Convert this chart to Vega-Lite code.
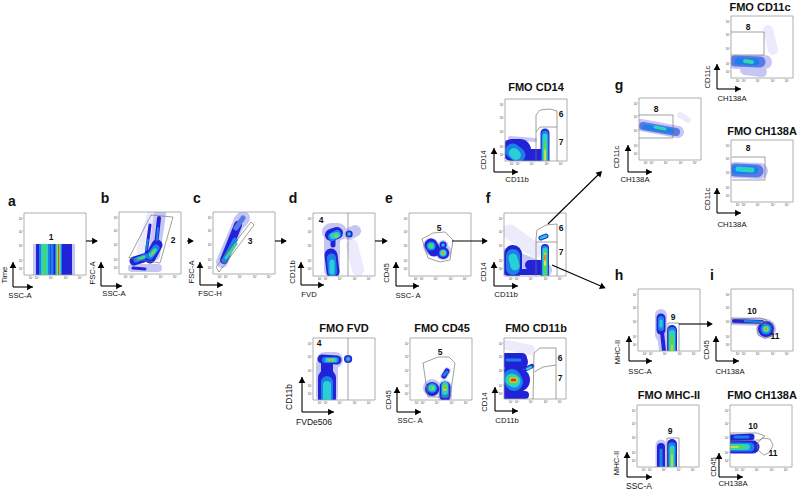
{"$schema":"https://vega.github.io/schema/vega-lite/v6.json","width":798,"height":492,"autosize":{"type":"fit","contains":"padding"},"padding":0,"background":"white","view":{"stroke":null},
"datasets":{
"bands":[
{"x":33,"x2":75,"y":244,"y2":275,"l":1},{"x":36,"x2":72,"y":244,"y2":275,"l":2},{"x":39,"x2":50,"y":244,"y2":275,"l":3},{"x":41,"x2":48,"y":244,"y2":275,"l":4},{"x":43,"x2":46,"y":244,"y2":275,"l":5},{"x":50.5,"x2":53.5,"y":244,"y2":275,"l":3},{"x":55,"x2":62,"y":244,"y2":275,"l":3},{"x":56,"x2":61,"y":244,"y2":275,"l":4},{"x":56.8,"x2":60,"y":244,"y2":275,"l":5},{"x":57.3,"x2":59.3,"y":244,"y2":275,"l":6},{"x":57.9,"x2":58.8,"y":244,"y2":275,"l":7}],
"blobs":[
{"x":132,"y":268,"x2":158,"y2":268,"w":8,"l":1},{"x":142,"y":250,"x2":152,"y2":216,"w":11,"l":0},{"x":154,"y":255,"x2":160,"y2":214,"w":12,"l":1},{"x":134,"y":261,"x2":147,"y2":257,"w":9,"l":2},{"x":146,"y":255,"x2":150,"y2":225,"w":3,"l":2},{"x":155,"y":255,"x2":159,"y2":218,"w":4,"l":2},{"x":150,"y":258,"x2":157,"y2":245,"w":11,"l":2},{"x":133,"y":268,"x2":145,"y2":269,"w":3,"l":2},{"x":136,"y":260,"x2":146,"y2":256,"w":5,"l":3},{"x":150,"y":256,"x2":156,"y2":248,"w":7,"l":3},{"x":146,"y":250,"x2":148,"y2":240,"w":2,"l":3},{"x":157,"y":240,"x2":158,"y2":228,"w":2,"l":3},{"x":138,"y":259,"x2":144,"y2":257,"w":3,"l":4},{"x":151,"y":255,"x2":155,"y2":250,"w":4,"l":4},{"x":139,"y":259,"x2":143,"y2":257.5,"w":2,"l":5},{"x":152,"y":254,"x2":154,"y2":251,"w":3,"l":5},{"x":153,"y":252.5,"x2":153.3,"y2":252.3,"w":2,"l":6},{"x":153,"y":252,"x2":153.2,"y2":252,"w":1.2,"l":7},
{"x":222,"y":262,"x2":240,"y2":220,"w":12,"l":1},{"x":240,"y":222,"x2":243,"y2":218,"w":14,"l":1},{"x":224,"y":260,"x2":238,"y2":225,"w":8,"l":2},{"x":236,"y":228,"x2":243,"y2":218,"w":5,"l":8},{"x":224,"y":261,"x2":235,"y2":240,"w":5,"l":3},{"x":226,"y":258,"x2":236,"y2":244,"w":3,"l":4},{"x":228,"y":255,"x2":235,"y2":246,"w":1.8,"l":5},
{"x":352,"y":245,"x2":358,"y2":270,"w":12,"l":0},{"x":331,"y":232,"x2":338,"y2":232,"w":18,"l":1},{"x":332,"y":240,"x2":332,"y2":270,"w":16,"l":1},{"x":349,"y":234,"x2":355,"y2":231,"w":12,"l":1},{"x":331,"y":235,"x2":337,"y2":233,"w":12,"l":2},{"x":333,"y":245,"x2":333,"y2":240,"w":5,"l":2},{"x":331,"y":255,"x2":333,"y2":272,"w":13,"l":2},{"x":349,"y":234,"x2":349.2,"y2":234,"w":7,"l":2},{"x":332,"y":237,"x2":337,"y2":234,"w":8,"l":3},{"x":331.5,"y":258,"x2":332.5,"y2":272,"w":9,"l":3},{"x":349,"y":234,"x2":349.2,"y2":234,"w":4,"l":3},{"x":333,"y":236,"x2":337,"y2":235,"w":6,"l":4},{"x":332,"y":262,"x2":332,"y2":272,"w":5,"l":4},{"x":349,"y":234,"x2":349.2,"y2":234,"w":2.5,"l":4},{"x":336,"y":236,"x2":336.2,"y2":236,"w":4,"l":5},{"x":336,"y":236,"x2":336.2,"y2":236,"w":2.5,"l":6},{"x":336,"y":236,"x2":336.2,"y2":236,"w":1.2,"l":7},
{"x":431,"y":246,"x2":432,"y2":248,"w":16,"l":1},{"x":443,"y":252,"x2":443.2,"y2":252,"w":16,"l":1},{"x":443,"y":245,"x2":443.2,"y2":245,"w":10,"l":1},{"x":431,"y":245,"x2":434,"y2":250,"w":13,"l":2},{"x":443,"y":253,"x2":443.2,"y2":253,"w":12,"l":2},{"x":443,"y":245,"x2":443.2,"y2":245,"w":7,"l":2},{"x":431,"y":246,"x2":431.2,"y2":246,"w":9,"l":3},{"x":443,"y":253,"x2":443.2,"y2":253,"w":8,"l":3},{"x":443,"y":245,"x2":443.2,"y2":245,"w":4,"l":3},{"x":431,"y":246,"x2":431.2,"y2":246,"w":6,"l":4},{"x":443,"y":253,"x2":443.2,"y2":253,"w":6,"l":4},{"x":443,"y":245,"x2":443.2,"y2":245,"w":2,"l":4},{"x":431,"y":246,"x2":431.2,"y2":246,"w":4,"l":5},{"x":443,"y":253,"x2":443.2,"y2":253,"w":4,"l":5},{"x":443,"y":253,"x2":443.2,"y2":253,"w":3,"l":6},{"x":443,"y":253,"x2":443.2,"y2":253,"w":1.5,"l":7},
{"x":510,"y":232,"x2":535,"y2":250,"w":15,"l":0},{"x":507,"y":255,"x2":545,"y2":270,"w":14,"l":1},{"x":513,"y":254,"x2":513,"y2":270,"w":18,"l":2},{"x":506,"y":272,"x2":540,"y2":272,"w":6,"l":2},{"x":530,"y":265,"x2":540,"y2":265,"w":10,"l":2},{"x":545,"y":248,"x2":545,"y2":276,"w":8,"l":2},{"x":541,"y":238,"x2":546,"y2":236,"w":5,"l":2},{"x":513,"y":256,"x2":513,"y2":268,"w":14,"l":3},{"x":545,"y":249,"x2":545,"y2":276,"w":6.5,"l":3},{"x":541,"y":238,"x2":546,"y2":236,"w":3.5,"l":3},{"x":513,"y":258,"x2":515,"y2":266,"w":9,"l":4},{"x":545,"y":250,"x2":545,"y2":276,"w":5,"l":4},{"x":541,"y":238,"x2":546,"y2":236,"w":2,"l":4},{"x":545,"y":252,"x2":545,"y2":276,"w":3.5,"l":5},{"x":545,"y":254,"x2":545,"y2":265,"w":2,"l":6},{"x":545,"y":255,"x2":545,"y2":260,"w":1,"l":7},
{"x":325,"y":360,"x2":335,"y2":360,"w":16,"l":1},{"x":327,"y":365,"x2":327,"y2":395,"w":22,"l":1},{"x":322,"y":359,"x2":337,"y2":360,"w":9,"l":2},{"x":327,"y":364,"x2":327,"y2":372,"w":12,"l":2},{"x":327,"y":378,"x2":327,"y2":398,"w":18,"l":2},{"x":348,"y":359,"x2":348.2,"y2":359,"w":8,"l":2},{"x":325,"y":360,"x2":336,"y2":360,"w":6,"l":3},{"x":327,"y":382,"x2":327,"y2":400,"w":12,"l":3},{"x":348,"y":359,"x2":348.2,"y2":359,"w":5,"l":3},{"x":327,"y":360,"x2":335,"y2":360,"w":4,"l":4},{"x":327,"y":385,"x2":327,"y2":400,"w":8,"l":4},{"x":348,"y":359,"x2":348.2,"y2":359,"w":3,"l":4},{"x":329,"y":360,"x2":333,"y2":360,"w":3,"l":5},{"x":330,"y":360,"x2":332,"y2":360,"w":2,"l":6},{"x":330.5,"y":360,"x2":331.5,"y2":360,"w":1,"l":7},
{"x":432,"y":388,"x2":432.2,"y2":388,"w":18,"l":1},{"x":445,"y":387,"x2":445,"y2":396,"w":14,"l":1},{"x":444,"y":376,"x2":447,"y2":371,"w":7,"l":1},{"x":432,"y":389,"x2":432.2,"y2":389,"w":14,"l":2},{"x":445,"y":387,"x2":445,"y2":396,"w":11,"l":2},{"x":444,"y":376,"x2":447,"y2":371,"w":5,"l":2},{"x":432,"y":388,"x2":432.2,"y2":388,"w":10,"l":3},{"x":445,"y":386,"x2":445,"y2":394,"w":8,"l":3},{"x":444,"y":375,"x2":447,"y2":372,"w":3,"l":3},{"x":432,"y":388,"x2":432.2,"y2":388,"w":7,"l":4},{"x":445,"y":385,"x2":445,"y2":392,"w":6,"l":4},{"x":432,"y":388,"x2":432.2,"y2":388,"w":4.5,"l":5},{"x":445,"y":386,"x2":445,"y2":390,"w":4.5,"l":5},{"x":433,"y":388,"x2":433.2,"y2":388,"w":1.5,"l":6},{"x":445,"y":388,"x2":445,"y2":389,"w":3,"l":6},{"x":445,"y":388,"x2":445.2,"y2":388,"w":1.6,"l":7},
{"x":507,"y":345,"x2":530,"y2":350,"w":10,"l":0},{"x":510,"y":362,"x2":520,"y2":362,"w":16,"l":2},{"x":505,"y":358,"x2":522,"y2":358,"w":10,"l":2},{"x":507,"y":380,"x2":518,"y2":380,"w":24,"l":2},{"x":505,"y":395,"x2":525,"y2":395,"w":8,"l":2},{"x":526,"y":369,"x2":532,"y2":366,"w":4.5,"l":2},{"x":507,"y":360,"x2":520,"y2":360,"w":3,"l":3},{"x":512,"y":378,"x2":514,"y2":382,"w":18,"l":3},{"x":527,"y":369,"x2":531,"y2":367,"w":3,"l":3},{"x":512,"y":380,"x2":514,"y2":381,"w":13,"l":4},{"x":527,"y":369,"x2":531,"y2":367,"w":2,"l":4},{"x":512,"y":380,"x2":514,"y2":380,"w":9,"l":5},{"x":512,"y":380,"x2":515,"y2":380,"w":5,"l":6},{"x":512,"y":380,"x2":515,"y2":380,"w":3,"l":7},
{"x":510,"y":138,"x2":535,"y2":140,"w":4,"l":1},{"x":512,"y":150,"x2":520,"y2":150,"w":22,"l":2},{"x":520,"y":155,"x2":540,"y2":155,"w":12,"l":2},{"x":545,"y":133,"x2":545,"y2":161,"w":9,"l":2},{"x":513,"y":151,"x2":518,"y2":155,"w":15,"l":3},{"x":545,"y":134,"x2":545,"y2":161,"w":7,"l":3},{"x":514,"y":153,"x2":516,"y2":155,"w":10,"l":4},{"x":545,"y":136,"x2":545,"y2":161,"w":5,"l":4},{"x":545,"y":142,"x2":545,"y2":161,"w":3,"l":5},{"x":545,"y":150,"x2":545,"y2":161,"w":1.5,"l":6},
{"x":680,"y":115,"x2":688,"y2":120,"w":6,"l":0},{"x":641,"y":125,"x2":678,"y2":132,"w":12,"l":1},{"x":643,"y":126,"x2":676,"y2":132,"w":8,"l":8},{"x":645,"y":127,"x2":672,"y2":131,"w":5,"l":3},{"x":655,"y":127,"x2":665,"y2":129,"w":3,"l":4},{"x":657,"y":128,"x2":663,"y2":129,"w":1.5,"l":5},
{"x":768,"y":30,"x2":773,"y2":50,"w":10,"l":0},{"x":735,"y":62,"x2":765,"y2":62,"w":14,"l":1},{"x":745,"y":70,"x2":762,"y2":72,"w":10,"l":1},{"x":735,"y":61,"x2":760,"y2":62,"w":11,"l":8},{"x":738,"y":61,"x2":756,"y2":62,"w":7,"l":3},{"x":745,"y":61,"x2":752,"y2":62,"w":4,"l":4},{"x":747,"y":61,"x2":750,"y2":62,"w":2,"l":5},
{"x":735,"y":170,"x2":760,"y2":171,"w":16,"l":1},{"x":735,"y":170,"x2":757,"y2":171,"w":13,"l":8},{"x":736,"y":170,"x2":754,"y2":170,"w":8,"l":3},{"x":738,"y":169,"x2":752,"y2":170,"w":5,"l":4},{"x":745,"y":170,"x2":750,"y2":170,"w":1.5,"l":5},
{"x":661,"y":315,"x2":661,"y2":335,"w":12,"l":1},{"x":662,"y":335,"x2":664,"y2":350,"w":10,"l":1},{"x":661,"y":318,"x2":661,"y2":330,"w":9,"l":2},{"x":662,"y":332,"x2":664,"y2":351,"w":4,"l":2},{"x":672,"y":330,"x2":672,"y2":351,"w":10,"l":2},{"x":661,"y":319,"x2":661,"y2":328,"w":6,"l":3},{"x":672,"y":331,"x2":672,"y2":351,"w":8,"l":3},{"x":661,"y":321,"x2":661,"y2":326,"w":3,"l":4},{"x":672,"y":333,"x2":672,"y2":351,"w":6,"l":4},{"x":672,"y":336,"x2":672,"y2":351,"w":4,"l":5},{"x":672,"y":345,"x2":672,"y2":351,"w":1.2,"l":6},
{"x":732,"y":321,"x2":762,"y2":322,"w":8,"l":1},{"x":766,"y":329,"x2":766.2,"y2":329,"w":20,"l":1},{"x":734,"y":321,"x2":762,"y2":322,"w":4,"l":2},{"x":766,"y":329,"x2":766.2,"y2":329,"w":16,"l":2},{"x":745,"y":321,"x2":762,"y2":322,"w":2.5,"l":3},{"x":766,"y":329,"x2":766.2,"y2":329,"w":11,"l":3},{"x":766,"y":329,"x2":766.2,"y2":329,"w":7,"l":4},{"x":766,"y":329,"x2":766.2,"y2":329,"w":5,"l":5},{"x":766,"y":329,"x2":766.2,"y2":329,"w":3,"l":6},{"x":766,"y":329,"x2":766.2,"y2":329,"w":1.5,"l":7},
{"x":661,"y":445,"x2":661,"y2":467,"w":11,"l":1},{"x":661,"y":447,"x2":661,"y2":467,"w":8,"l":2},{"x":672,"y":444,"x2":672,"y2":467,"w":10,"l":2},{"x":661,"y":450,"x2":661,"y2":467,"w":3,"l":3},{"x":672,"y":446,"x2":672,"y2":467,"w":7.5,"l":3},{"x":672,"y":448,"x2":672,"y2":467,"w":5,"l":4},{"x":672,"y":450,"x2":672,"y2":467,"w":3,"l":5},{"x":672,"y":455,"x2":672,"y2":467,"w":1.2,"l":6},
{"x":731,"y":438,"x2":751,"y2":437,"w":7,"l":2},{"x":731,"y":447,"x2":753,"y2":447,"w":13,"l":2},{"x":735,"y":437,"x2":748,"y2":437,"w":3,"l":3},{"x":731,"y":447,"x2":750,"y2":447,"w":9,"l":3},{"x":731,"y":447,"x2":747,"y2":447,"w":6,"l":4},{"x":731,"y":447,"x2":744,"y2":447,"w":3.5,"l":5},{"x":731,"y":447,"x2":738,"y2":447,"w":1.5,"l":6}],
"masks":[
{"x":119,"x2":181,"y":274,"y2":283},{"x":119,"x2":181,"y":205,"y2":212},{"x":213,"x2":275,"y":205,"y2":212},{"x":213,"x2":275,"y":274,"y2":283},{"x":313,"x2":375,"y":276,"y2":285},{"x":409,"x2":471,"y":276,"y2":285},{"x":504,"x2":566,"y":276,"y2":285},{"x":495,"x2":504,"y":213,"y2":285},{"x":313,"x2":375,"y":400,"y2":409},{"x":410,"x2":472,"y":400,"y2":409},{"x":504,"x2":566,"y":399,"y2":408},{"x":495,"x2":504,"y":338,"y2":408},{"x":505,"x2":567,"y":161,"y2":170},{"x":496,"x2":505,"y":99,"y2":170},{"x":630,"x2":639,"y":98,"y2":160},{"x":722,"x2":731,"y":16,"y2":78},{"x":722,"x2":731,"y":140,"y2":202},{"x":638,"x2":700,"y":351,"y2":360},{"x":722,"x2":731,"y":289,"y2":351},{"x":637,"x2":699,"y":467,"y2":476},{"x":721,"x2":730,"y":405,"y2":467}],
"frames":[
{"x":24,"x2":86,"y":213,"y2":275},{"x":119,"x2":181,"y":212,"y2":274},{"x":213,"x2":275,"y":212,"y2":274},{"x":313,"x2":375,"y":213,"y2":276},{"x":409,"x2":471,"y":213,"y2":276},{"x":504,"x2":566,"y":213,"y2":276},{"x":313,"x2":375,"y":338,"y2":400},{"x":410,"x2":472,"y":338,"y2":400},{"x":504,"x2":566,"y":338,"y2":399},{"x":505,"x2":567,"y":99,"y2":161},{"x":639,"x2":701,"y":98,"y2":160},{"x":731,"x2":793,"y":16,"y2":78},{"x":731,"x2":793,"y":140,"y2":202},{"x":638,"x2":700,"y":289,"y2":351},{"x":731,"x2":793,"y":289,"y2":351},{"x":637,"x2":699,"y":405,"y2":467},{"x":730,"x2":792,"y":405,"y2":467}],
"gates":[
{"g":"b","i":1,"x":129,"y":258},{"g":"b","i":2,"x":151,"y":215},{"g":"b","i":3,"x":173,"y":217},{"g":"b","i":4,"x":160,"y":263},{"g":"b","i":5,"x":129,"y":258},
{"g":"c","i":1,"x":216,"y":267},{"g":"c","i":2,"x":251,"y":222},{"g":"c","i":3,"x":254,"y":225},{"g":"c","i":4,"x":219,"y":272},{"g":"c","i":5,"x":216,"y":267},
{"g":"d","i":1,"x":348,"y":213},{"g":"d","i":2,"x":348,"y":276},
{"g":"e","i":1,"x":422,"y":239},{"g":"e","i":2,"x":433,"y":233},{"g":"e","i":3,"x":445,"y":232},{"g":"e","i":4,"x":453,"y":240},{"g":"e","i":5,"x":450,"y":260},{"g":"e","i":6,"x":440,"y":262},{"g":"e","i":7,"x":428,"y":258},{"g":"e","i":8,"x":422,"y":239},
{"g":"f6","i":1,"x":536,"y":242},{"g":"f6","i":2,"x":536,"y":239},{"g":"f6","i":3,"x":537,"y":230},{"g":"f6","i":4,"x":546,"y":225},{"g":"f6","i":5,"x":557,"y":224},{"g":"f6","i":6,"x":557,"y":242},{"g":"f6","i":7,"x":536,"y":242},{"g":"f7","i":1,"x":536,"y":242},{"g":"f7","i":2,"x":536,"y":276},{"g":"f8","i":1,"x":557,"y":242},{"g":"f8","i":2,"x":557,"y":276},
{"g":"v","i":1,"x":348,"y":338},{"g":"v","i":2,"x":348,"y":400},
{"g":"k","i":1,"x":423,"y":363},{"g":"k","i":2,"x":438,"y":357},{"g":"k","i":3,"x":449,"y":357},{"g":"k","i":4,"x":455,"y":363},{"g":"k","i":5,"x":450,"y":397},{"g":"k","i":6,"x":428,"y":397},{"g":"k","i":7,"x":423,"y":363},
{"g":"m","i":1,"x":533,"y":399},{"g":"m","i":2,"x":534,"y":353},{"g":"m","i":3,"x":540,"y":348},{"g":"m","i":4,"x":556,"y":348},{"g":"m","i":5,"x":556,"y":399},{"g":"n","i":1,"x":534,"y":372},{"g":"n","i":2,"x":543,"y":367},{"g":"n","i":3,"x":556,"y":365},
{"g":"o","i":1,"x":536,"y":161},{"g":"o","i":2,"x":536,"y":115},{"g":"o","i":3,"x":540,"y":110},{"g":"o","i":4,"x":550,"y":109},{"g":"o","i":5,"x":557,"y":111},{"g":"o","i":6,"x":557,"y":161},{"g":"p","i":1,"x":536,"y":132},{"g":"p","i":2,"x":540,"y":127},{"g":"p","i":3,"x":557,"y":127},
{"g":"q","i":1,"x":639,"y":115},{"g":"q","i":2,"x":673,"y":115},{"g":"q","i":3,"x":673,"y":138},{"g":"q","i":4,"x":639,"y":138},
{"g":"r","i":1,"x":731,"y":32},{"g":"r","i":2,"x":764,"y":32},{"g":"r","i":3,"x":764,"y":55},{"g":"r","i":4,"x":731,"y":55},
{"g":"s","i":1,"x":732,"y":157},{"g":"s","i":2,"x":765,"y":157},{"g":"s","i":3,"x":765,"y":180},{"g":"s","i":4,"x":732,"y":180},
{"g":"t","i":1,"x":668,"y":351},{"g":"t","i":2,"x":668,"y":323},{"g":"t","i":3,"x":679,"y":323},{"g":"t","i":4,"x":679,"y":351},
{"g":"u","i":1,"x":731,"y":319},{"g":"u","i":2,"x":760,"y":318},{"g":"u","i":3,"x":767,"y":320},{"g":"u","i":4,"x":765,"y":324},{"g":"u","i":5,"x":731,"y":323},
{"g":"w","i":1,"x":761,"y":322},{"g":"w","i":2,"x":770,"y":322},{"g":"w","i":3,"x":774,"y":328},{"g":"w","i":4,"x":772,"y":336},{"g":"w","i":5,"x":765,"y":338},{"g":"w","i":6,"x":758,"y":335},{"g":"w","i":7,"x":757,"y":328},{"g":"w","i":8,"x":761,"y":322},
{"g":"y","i":1,"x":667,"y":467},{"g":"y","i":2,"x":667,"y":438},{"g":"y","i":3,"x":679,"y":438},{"g":"y","i":4,"x":679,"y":467},
{"g":"z","i":1,"x":730,"y":433},{"g":"z","i":2,"x":757,"y":433},{"g":"z","i":3,"x":765,"y":436},{"g":"z","i":4,"x":760,"y":440},{"g":"z","i":5,"x":730,"y":441},
{"g":"za","i":1,"x":762,"y":438},{"g":"za","i":2,"x":770,"y":439},{"g":"za","i":3,"x":773,"y":445},{"g":"za","i":4,"x":770,"y":452},{"g":"za","i":5,"x":764,"y":455},{"g":"za","i":6,"x":758,"y":450},{"g":"za","i":7,"x":757,"y":444},{"g":"za","i":8,"x":762,"y":438}],
"ticks":[
{"x":31,"y":278},{"x":37,"y":278},{"x":51,"y":278},{"x":66,"y":278},{"x":80,"y":278},{"x":21,"y":219},{"x":21,"y":232},{"x":21,"y":246},{"x":21,"y":261},{"x":21,"y":269},
{"x":126,"y":277},{"x":132,"y":277},{"x":146,"y":277},{"x":161,"y":277},{"x":175,"y":277},{"x":116,"y":218},{"x":116,"y":231},{"x":116,"y":245},{"x":116,"y":260},{"x":116,"y":268},
{"x":220,"y":277},{"x":226,"y":277},{"x":240,"y":277},{"x":255,"y":277},{"x":269,"y":277},{"x":210,"y":218},{"x":210,"y":231},{"x":210,"y":245},{"x":210,"y":260},{"x":210,"y":268},
{"x":320,"y":279},{"x":326,"y":279},{"x":340,"y":279},{"x":355,"y":279},{"x":369,"y":279},{"x":310,"y":219},{"x":310,"y":232},{"x":310,"y":246},{"x":310,"y":261},{"x":310,"y":269},
{"x":416,"y":279},{"x":422,"y":279},{"x":436,"y":279},{"x":451,"y":279},{"x":465,"y":279},{"x":406,"y":219},{"x":406,"y":232},{"x":406,"y":246},{"x":406,"y":261},{"x":406,"y":269},
{"x":511,"y":279},{"x":517,"y":279},{"x":531,"y":279},{"x":546,"y":279},{"x":560,"y":279},{"x":501,"y":219},{"x":501,"y":232},{"x":501,"y":246},{"x":501,"y":261},{"x":501,"y":269},
{"x":320,"y":403},{"x":326,"y":403},{"x":340,"y":403},{"x":355,"y":403},{"x":369,"y":403},{"x":310,"y":344},{"x":310,"y":357},{"x":310,"y":371},{"x":310,"y":386},{"x":310,"y":394},
{"x":417,"y":403},{"x":423,"y":403},{"x":437,"y":403},{"x":452,"y":403},{"x":466,"y":403},{"x":407,"y":344},{"x":407,"y":357},{"x":407,"y":371},{"x":407,"y":386},{"x":407,"y":394},
{"x":511,"y":402},{"x":517,"y":402},{"x":531,"y":402},{"x":546,"y":402},{"x":560,"y":402},{"x":501,"y":344},{"x":501,"y":357},{"x":501,"y":371},{"x":501,"y":386},{"x":501,"y":394},
{"x":512,"y":164},{"x":518,"y":164},{"x":532,"y":164},{"x":547,"y":164},{"x":561,"y":164},{"x":502,"y":105},{"x":502,"y":118},{"x":502,"y":132},{"x":502,"y":147},{"x":502,"y":155},
{"x":646,"y":163},{"x":652,"y":163},{"x":666,"y":163},{"x":681,"y":163},{"x":695,"y":163},{"x":636,"y":104},{"x":636,"y":117},{"x":636,"y":131},{"x":636,"y":146},{"x":636,"y":154},
{"x":738,"y":81},{"x":744,"y":81},{"x":758,"y":81},{"x":773,"y":81},{"x":787,"y":81},{"x":728,"y":22},{"x":728,"y":35},{"x":728,"y":49},{"x":728,"y":64},{"x":728,"y":72},
{"x":738,"y":205},{"x":744,"y":205},{"x":758,"y":205},{"x":773,"y":205},{"x":787,"y":205},{"x":728,"y":146},{"x":728,"y":159},{"x":728,"y":173},{"x":728,"y":188},{"x":728,"y":196},
{"x":645,"y":354},{"x":651,"y":354},{"x":665,"y":354},{"x":680,"y":354},{"x":694,"y":354},{"x":635,"y":295},{"x":635,"y":308},{"x":635,"y":322},{"x":635,"y":337},{"x":635,"y":345},
{"x":738,"y":354},{"x":744,"y":354},{"x":758,"y":354},{"x":773,"y":354},{"x":787,"y":354},{"x":728,"y":295},{"x":728,"y":308},{"x":728,"y":322},{"x":728,"y":337},{"x":728,"y":345},
{"x":644,"y":470},{"x":650,"y":470},{"x":664,"y":470},{"x":679,"y":470},{"x":693,"y":470},{"x":634,"y":411},{"x":634,"y":424},{"x":634,"y":438},{"x":634,"y":453},{"x":634,"y":461},
{"x":737,"y":470},{"x":743,"y":470},{"x":757,"y":470},{"x":772,"y":470},{"x":786,"y":470},{"x":727,"y":411},{"x":727,"y":424},{"x":727,"y":438},{"x":727,"y":453},{"x":727,"y":461}],
"lines":[
{"x":13,"y":262,"x2":13,"y2":287},{"x":13,"y":287,"x2":33,"y2":287},{"x":101,"y":262,"x2":101,"y2":286},{"x":101,"y":286,"x2":122,"y2":286},{"x":200,"y":262,"x2":200,"y2":285},{"x":200,"y":285,"x2":223,"y2":285},{"x":301,"y":262,"x2":301,"y2":285},{"x":301,"y":285,"x2":324,"y2":285},{"x":396,"y":262,"x2":396,"y2":286},{"x":396,"y":286,"x2":419,"y2":286},{"x":494,"y":262,"x2":494,"y2":286},{"x":494,"y":286,"x2":518,"y2":286},{"x":302,"y":377,"x2":302,"y2":412},{"x":302,"y":412,"x2":334,"y2":412},{"x":397,"y":387,"x2":397,"y2":412},{"x":397,"y":412,"x2":421,"y2":412},{"x":495,"y":387,"x2":495,"y2":411},{"x":495,"y":411,"x2":518,"y2":411},{"x":494,"y":148,"x2":494,"y2":172},{"x":494,"y":172,"x2":518,"y2":172},{"x":628,"y":145,"x2":628,"y2":172},{"x":628,"y":172,"x2":652,"y2":172},{"x":717,"y":64,"x2":717,"y2":89},{"x":717,"y":89,"x2":741,"y2":89},{"x":717,"y":188,"x2":717,"y2":213},{"x":717,"y":213,"x2":741,"y2":213},{"x":629,"y":336,"x2":629,"y2":361},{"x":629,"y":361,"x2":652,"y2":361},{"x":716,"y":336,"x2":716,"y2":361},{"x":716,"y":361,"x2":739,"y2":361},{"x":627,"y":452,"x2":627,"y2":477},{"x":627,"y":477,"x2":652,"y2":477},{"x":719,"y":453,"x2":719,"y2":477},{"x":719,"y":477,"x2":743,"y2":477},
{"x":86,"y":241,"x2":97,"y2":241},{"x":187,"y":241,"x2":192,"y2":241},{"x":275,"y":241,"x2":286,"y2":241},{"x":375,"y":241,"x2":386,"y2":241},{"x":452,"y":241,"x2":486,"y2":241},{"x":548,"y":224,"x2":600,"y2":173},{"x":552,"y":265,"x2":603,"y2":287},{"x":679,"y":324,"x2":711,"y2":324}],
"heads":[
{"x":13,"y":265,"a":0},{"x":30,"y":287,"a":90},{"x":101,"y":265,"a":0},{"x":119,"y":286,"a":90},{"x":200,"y":265,"a":0},{"x":220,"y":285,"a":90},{"x":301,"y":265,"a":0},{"x":321,"y":285,"a":90},{"x":396,"y":265,"a":0},{"x":416,"y":286,"a":90},{"x":494,"y":265,"a":0},{"x":515,"y":286,"a":90},{"x":302,"y":380,"a":0},{"x":331,"y":412,"a":90},{"x":397,"y":390,"a":0},{"x":418,"y":412,"a":90},{"x":495,"y":390,"a":0},{"x":515,"y":411,"a":90},{"x":494,"y":151,"a":0},{"x":515,"y":172,"a":90},{"x":628,"y":148,"a":0},{"x":649,"y":172,"a":90},{"x":717,"y":67,"a":0},{"x":738,"y":89,"a":90},{"x":717,"y":191,"a":0},{"x":738,"y":213,"a":90},{"x":629,"y":339,"a":0},{"x":649,"y":361,"a":90},{"x":716,"y":339,"a":0},{"x":736,"y":361,"a":90},{"x":627,"y":455,"a":0},{"x":649,"y":477,"a":90},{"x":719,"y":456,"a":0},{"x":740,"y":477,"a":90},
{"x":95,"y":241,"a":90},{"x":191,"y":241,"a":90},{"x":284,"y":241,"a":90},{"x":385,"y":241,"a":90},{"x":485,"y":241,"a":90},{"x":600,"y":173,"a":45},{"x":603,"y":287,"a":113},{"x":710,"y":324,"a":90}],
"bold":[
{"x":12,"y":202,"t":"a","s":14},{"x":105,"y":199,"t":"b","s":14},{"x":197,"y":199,"t":"c","s":14},{"x":293,"y":199,"t":"d","s":14},{"x":389,"y":199,"t":"e","s":14},{"x":488,"y":199,"t":"f","s":14},{"x":619,"y":86,"t":"g","s":14},{"x":619,"y":276,"t":"h","s":14},{"x":712,"y":276,"t":"i","s":14},
{"x":344,"y":329,"t":"FMO FVD","s":11},{"x":442,"y":329,"t":"FMO CD45","s":11},{"x":536,"y":329,"t":"FMO CD11b","s":11},{"x":536,"y":88,"t":"FMO CD14","s":11},{"x":760,"y":8,"t":"FMO CD11c","s":11},{"x":762,"y":132,"t":"FMO CH138A","s":11},{"x":669,"y":396,"t":"FMO MHC-II","s":11},{"x":762,"y":396,"t":"FMO CH138A","s":11},
{"x":51,"y":237,"t":"1","s":8.5},{"x":173,"y":240,"t":"2","s":8.5},{"x":250,"y":241,"t":"3","s":8.5},{"x":321,"y":220,"t":"4","s":8.5},{"x":439,"y":228,"t":"5","s":8.5},{"x":561,"y":228,"t":"6","s":8.5},{"x":561,"y":252,"t":"7","s":8.5},{"x":319,"y":343,"t":"4","s":8.5},{"x":440,"y":352,"t":"5","s":8.5},{"x":560,"y":358,"t":"6","s":8.5},{"x":560,"y":378,"t":"7","s":8.5},{"x":561,"y":114,"t":"6","s":8.5},{"x":561,"y":142,"t":"7","s":8.5},{"x":656,"y":109,"t":"8","s":8.5},{"x":748,"y":27,"t":"8","s":8.5},{"x":748,"y":148,"t":"8","s":8.5},{"x":673,"y":317,"t":"9","s":8.5},{"x":752,"y":311,"t":"10","s":8.5},{"x":775,"y":336,"t":"11","s":8.5},{"x":670,"y":431,"t":"9","s":8.5},{"x":753,"y":426,"t":"10","s":8.5},{"x":773,"y":453,"t":"11","s":8.5}],
"labels":[
{"x":20,"y":296,"t":"SSC-A","s":7.7},{"x":114,"y":294,"t":"SSC-A","s":7.7},{"x":210,"y":294,"t":"FSC-H","s":7.7},{"x":309,"y":295,"t":"FVD","s":7.7},{"x":408,"y":296,"t":"SSC- A","s":7.7},{"x":506,"y":295,"t":"CD11b","s":7.7},{"x":314,"y":422,"t":"FVDe506","s":8.5},{"x":410,"y":421,"t":"SSC- A","s":7.7},{"x":507,"y":421,"t":"CD11b","s":7.7},{"x":517,"y":180,"t":"CD11b","s":7.7},{"x":635,"y":180,"t":"CH138A","s":7.7},{"x":732,"y":99,"t":"CH138A","s":7.7},{"x":732,"y":225,"t":"CH138A","s":7.7},{"x":640,"y":372,"t":"SSC-A","s":7.7},{"x":730,"y":372,"t":"CH138A","s":7.7},{"x":639,"y":486,"t":"SSC-A","s":8.5},{"x":733,"y":484,"t":"CH138A","s":7.7}],
"vlabels":[
{"x":5,"y":275,"t":"Time","s":7.7},{"x":93,"y":273,"t":"FSC-A","s":7.7},{"x":192,"y":272,"t":"FSC-A","s":7.7},{"x":293,"y":272,"t":"CD11b","s":7.7},{"x":387,"y":273,"t":"CD45","s":7.7},{"x":484,"y":272,"t":"CD14","s":7.7},{"x":289,"y":397,"t":"CD11b","s":8.5},{"x":389,"y":400,"t":"CD45","s":7.7},{"x":485,"y":402,"t":"CD14","s":7.7},{"x":484,"y":160,"t":"CD14","s":7.7},{"x":617,"y":157,"t":"CD11c","s":7.7},{"x":708,"y":77,"t":"CD11c","s":7.7},{"x":708,"y":199,"t":"CD11c","s":7.7},{"x":618,"y":352,"t":"MHC-II","s":7.7},{"x":707,"y":350,"t":"CD45","s":7.7},{"x":617,"y":463,"t":"MHC-II","s":7.7},{"x":714,"y":467,"t":"CD45","s":7.7}]
},
"encoding":{
"x":{"field":"x","type":"quantitative","axis":null,"scale":{"domain":[0,798],"range":[0,798],"nice":false,"zero":false}},
"y":{"field":"y","type":"quantitative","axis":null,"scale":{"domain":[0,492],"range":[0,492],"nice":false,"zero":false}}},
"layer":[
{"data":{"name":"bands"},"mark":{"type":"rect"},"encoding":{"x2":{"field":"x2"},"y2":{"field":"y2"},"color":{"field":"l","type":"nominal","legend":null,"scale":{"domain":[0,1,2,3,4,5,6,7,8],"range":["#ecebfb","#c6c6f4","#2222d8","#1c80e8","#28cfd6","#4cd95c","#e8e23a","#e0301e","#5a78e8"]}}}},
{"data":{"name":"blobs"},"mark":{"type":"rule","strokeCap":"round"},"encoding":{"x2":{"field":"x2"},"y2":{"field":"y2"},"size":{"field":"w","type":"quantitative","legend":null,"scale":null},"color":{"field":"l","type":"nominal","legend":null}}},
{"data":{"name":"masks"},"mark":{"type":"rect","color":"white"},"encoding":{"x2":{"field":"x2"},"y2":{"field":"y2"}}},
{"data":{"name":"frames"},"mark":{"type":"rect","filled":false,"stroke":"#9a9a9a","strokeWidth":0.8},"encoding":{"x2":{"field":"x2"},"y2":{"field":"y2"}}},
{"data":{"name":"gates"},"mark":{"type":"line","color":"#777777","strokeWidth":0.7},"encoding":{"detail":{"field":"g"},"order":{"field":"i","type":"quantitative"}}},
{"data":{"name":"ticks"},"mark":{"type":"text","text":"10⁴","fontSize":3,"color":"#444444","font":"Liberation Sans"}},
{"data":{"name":"lines"},"mark":{"type":"rule","color":"black","strokeWidth":1.1},"encoding":{"x2":{"field":"x2"},"y2":{"field":"y2"}}},
{"data":{"name":"heads"},"mark":{"type":"point","shape":"triangle-up","filled":true,"color":"black","opacity":1,"size":45},"encoding":{"angle":{"field":"a","type":"quantitative","scale":null}}},
{"data":{"name":"bold"},"mark":{"type":"text","font":"Liberation Sans","fontWeight":"bold","color":"#111111","baseline":"middle","align":"center"},"encoding":{"text":{"field":"t"},"size":{"field":"s","type":"quantitative","scale":null,"legend":null}}},
{"data":{"name":"labels"},"mark":{"type":"text","font":"Liberation Sans","color":"#111111","baseline":"middle","align":"center"},"encoding":{"text":{"field":"t"},"size":{"field":"s","type":"quantitative","scale":null,"legend":null}}},
{"data":{"name":"vlabels"},"mark":{"type":"text","font":"Liberation Sans","color":"#111111","baseline":"middle","align":"center","angle":270},"encoding":{"text":{"field":"t"},"size":{"field":"s","type":"quantitative","scale":null,"legend":null}}}
]}
